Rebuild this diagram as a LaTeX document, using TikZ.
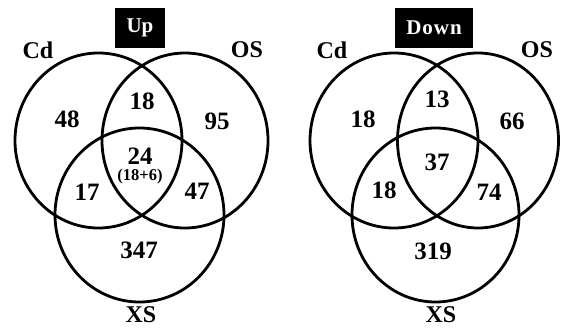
\documentclass[tikz,border=0pt]{standalone}
\usepackage{fontspec}
\setmainfont{Liberation Serif}
\begin{document}
\begin{tikzpicture}[x=1pt,y=-1pt,
  ring/.style={line width=2.8pt},
  num/.style={font=\fontsize{25}{25}\selectfont\bfseries, inner sep=0pt},
  small/.style={font=\fontsize{16.5}{17}\selectfont\bfseries, inner sep=0pt},
  setlabel/.style={font=\fontsize{24}{24}\selectfont\bfseries, inner sep=0pt},
  titlebox/.style={fill=black, text=white, font=\fontsize{21}{21}\selectfont\bfseries, minimum height=40pt, inner sep=0pt}]
\useasboundingbox (0,0) rectangle (562,329);
% ---------- Up panel ----------
\draw[ring] (98.5,140.5) ellipse [x radius=83.5, y radius=87.5];
\draw[ring] (185,140.5) ellipse [x radius=83, y radius=87.5];
\draw[ring] (139.5,215) ellipse [x radius=84.5, y radius=87];
\node[titlebox, minimum width=50pt] (up) at (140,28) {Up};
\node[setlabel] (cdA) at (38,50) {Cd};
\node[setlabel] (osA) at (247,50) {OS};
\node[setlabel] (xsA) at (141,315) {XS};
\node[num] (a1) at (67,119) {48};
\node[num] (a2) at (142,101) {18};
\node[num] (a3) at (217,121) {95};
\node[num] (a4) at (140,156) {24};
\node[small] (a4b) at (140,177) {(18+6)};
\node[num] (a5) at (87,192) {17};
\node[num] (a6) at (197,191) {47};
\node[num] (a7) at (139,250) {347};
% ---------- Down panel ----------
\draw[ring] (394,140.5) ellipse [x radius=84, y radius=87.5];
\draw[ring] (478,140.5) ellipse [x radius=80.5, y radius=87.5];
\draw[ring] (435.5,215) ellipse [x radius=83.5, y radius=87];
\node[titlebox, minimum width=78pt] (down) at (434,28) {D\kern1pt o\kern1pt w\kern1pt n};
\node[setlabel] (cdB) at (332,50) {Cd};
\node[setlabel] (osB) at (537,50) {OS};
\node[setlabel] (xsB) at (441,315) {XS};
\node[num] (b1) at (363,119) {18};
\node[num] (b2) at (437,99) {13};
\node[num] (b3) at (512,121) {66};
\node[num] (b4) at (437,162) {37};
\node[num] (b5) at (384,190) {18};
\node[num] (b6) at (489,192) {74};
\node[num] (b7) at (433,251) {319};
\end{tikzpicture}
\end{document}
